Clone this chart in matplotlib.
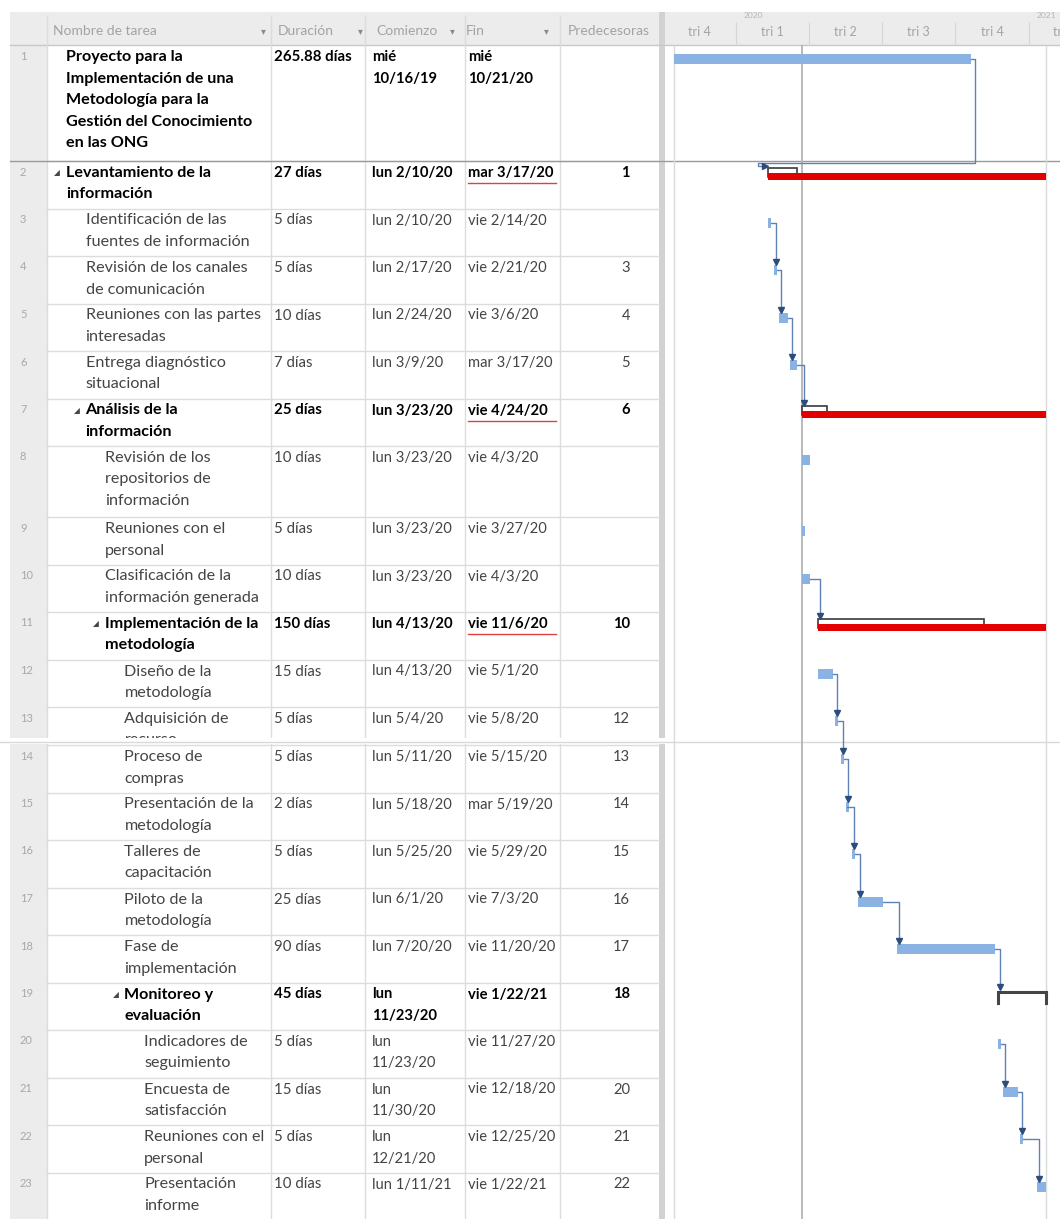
import matplotlib
matplotlib.use("Agg")
import matplotlib.pyplot as plt
import matplotlib.dates as mdates
from matplotlib.patches import Rectangle
import pandas as pd

plt.rcParams['font.family'] = ['Lato', 'DejaVu Sans']

# --- Task table (MS Project export) ---
task_names = [
    ["Proyecto para la", "Implementación de una", "Metodología para la",
     "Gestión del Conocimiento", "en las ONG"],
    ["Levantamiento de la", "información"],
    ["Identificación de las", "fuentes de información"],
    ["Revisión de los canales", "de comunicación"],
    ["Reuniones con las partes", "interesadas"],
    ["Entrega diagnóstico", "situacional"],
    ["Análisis de la", "información"],
    ["Revisión de los", "repositorios de", "información"],
    ["Reuniones con el", "personal"],
    ["Clasificación de la", "información generada"],
    ["Implementación de la", "metodología"],
    ["Diseño de la", "metodología"],
    ["Adquisición de", "recurso"],
    ["Proceso de", "compras"],
    ["Presentación de la", "metodología"],
    ["Talleres de", "capacitación"],
    ["Piloto de la", "metodología"],
    ["Fase de", "implementación"],
    ["Monitoreo y", "evaluación"],
    ["Indicadores de", "seguimiento"],
    ["Encuesta de", "satisfacción"],
    ["Reuniones con el", "personal"],
    ["Presentación", "informe"],
]
durations = ["265.88 días", "27 días", "5 días", "5 días", "10 días", "7 días",
             "25 días", "10 días", "5 días", "10 días", "150 días", "15 días",
             "5 días", "5 días", "2 días", "5 días", "25 días", "90 días",
             "45 días", "5 días", "15 días", "5 días", "10 días"]
starts = ["mié\n10/16/19", "lun 2/10/20", "lun 2/10/20", "lun 2/17/20",
          "lun 2/24/20", "lun 3/9/20", "lun 3/23/20", "lun 3/23/20",
          "lun 3/23/20", "lun 3/23/20", "lun 4/13/20", "lun 4/13/20",
          "lun 5/4/20", "lun 5/11/20", "lun 5/18/20", "lun 5/25/20",
          "lun 6/1/20", "lun 7/20/20", "lun\n11/23/20", "lun\n11/23/20",
          "lun\n11/30/20", "lun\n12/21/20", "lun 1/11/21"]
finishes = ["mié\n10/21/20", "mar 3/17/20", "vie 2/14/20", "vie 2/21/20",
            "vie 3/6/20", "mar 3/17/20", "vie 4/24/20", "vie 4/3/20",
            "vie 3/27/20", "vie 4/3/20", "vie 11/6/20", "vie 5/1/20",
            "vie 5/8/20", "vie 5/15/20", "mar 5/19/20", "vie 5/29/20",
            "vie 7/3/20", "vie 11/20/20", "vie 1/22/21", "vie 11/27/20",
            "vie 12/18/20", "vie 12/25/20", "vie 1/22/21"]
predecessors = [None, 1, None, 3, 4, 5, 6, None, None, None, 10, None, 12,
                13, 14, 15, 16, 17, 18, None, 20, 21, 22]
outline_levels = [0, 0, 1, 1, 1, 1, 1, 2, 2, 2, 2, 3, 3, 3, 3, 3, 3, 3, 3,
                  4, 4, 4, 4]
bold_ids = [1, 2, 7, 11, 19]
summary_ids = [2, 7, 11, 19]
late_ids = [2, 7, 11]          # summaries with the red bar to project end
status_date = "3/23/20"

quarter_labels = ["tri 4", "tri 1", "tri 2", "tri 3", "tri 4", "tri 1"]
quarter_starts = ["2019-10-01", "2020-01-01", "2020-04-01", "2020-07-01",
                  "2020-10-01", "2021-01-01", "2021-04-01"]
year_labels = ["2020", "2021"]


def to_date(s):
    return pd.to_datetime(s.split()[-1], format="%m/%d/%y")


start_num = [mdates.date2num(to_date(s)) for s in starts]
finish_num = [mdates.date2num(to_date(s)) for s in finishes]
n = len(task_names)

# --- Layout (pixels) ---
W, H = 1060, 1219
head_top, head_bot = 12, 45
row_h = []
for i in range(n):
    if i == 0:
        row_h.append(116)
    elif len(task_names[i]) == 3:
        row_h.append(71)
    elif i == 12:
        row_h.append(38)
    else:
        row_h.append(47.5)
row_top = [head_bot]
for h in row_h[:-1]:
    row_top.append(row_top[-1] + h)
line_gap = 21.5
cut_y = 738   # screen break inside row 13

grid_c = "#dcdcdc"
head_c = "#ececec"
txt_c = "#444444"
head_txt = "#a3a3a3"
blue = "#8ab3e3"
link_c = "#5f82b6"
arrow_c = "#2d4c7c"
red = "#e30000"

fig = plt.figure(figsize=(W / 100, H / 100), dpi=100)
ax = fig.add_axes([0, 0, 1, 1])
ax.set_xlim(0, W)
ax.set_ylim(H, 0)
ax.axis("off")

# header bands and number column
ax.add_patch(Rectangle((10, head_top), 649, head_bot - head_top, fc=head_c, ec="none"))
ax.add_patch(Rectangle((665, head_top), W - 665, head_bot - head_top, fc=head_c, ec="none"))
ax.add_patch(Rectangle((10, head_bot), 37, H - head_bot, fc=head_c, ec="none"))
ax.add_patch(Rectangle((659, head_top), 6, H - head_top, fc="#d2d2d2", ec="none"))
ax.plot([10, W], [head_bot, head_bot], color="#c8c8c8", lw=1)

# column lines
for x in [47, 271, 365, 465, 560]:
    ax.plot([x, x], [head_top + 4, H], color=grid_c, lw=1)

# header text
header_labels = ["Nombre de tarea", "Duración", "Comienzo", "Fin", "Predecesoras"]
header_x = [53, 278, 376, 466, 568]
for lab, x in zip(header_labels, header_x):
    ax.text(x, 31, lab, color=head_txt, fontsize=10, va="center")
for x in [263, 360, 452, 546]:
    ax.text(x, 32, "▾", color="#8a8a8a", fontsize=7, va="center", ha="center")

# table rows
clip = Rectangle((0, 0), W, cut_y, transform=ax.transData)
for i in range(n):
    tid = i + 1
    top = row_top[i]
    bottom = top + row_h[i]
    weight = "bold" if tid in bold_ids else "normal"
    color = "black" if tid in bold_ids else txt_c
    y0 = top + 12
    ax.plot([47, 659], [bottom, bottom], color=grid_c, lw=1)
    ax.text(20, y0 - 1, str(tid), color="#a8a8a8", fontsize=8, va="center")
    name_x = 66 + outline_levels[i] * 19.5
    if tid in summary_ids:
        ax.text(name_x - 9, y0, "◢", fontsize=5.5, color="#444444",
                va="center", ha="center", family="DejaVu Sans")
    cells = [("\n".join(task_names[i]), name_x, "left", 11.6),
             (durations[i], 274, "left", 10.8),
             (starts[i], 372, "left", 10.6),
             (finishes[i], 468, "left", 10.6),
             ("" if predecessors[i] is None else str(predecessors[i]), 630, "right", 10.6)]
    for text, x, ha, fs in cells:
        for k, line in enumerate(text.split("\n")):
            t = ax.text(x, y0 + k * line_gap, line, fontsize=fs, color=color,
                        fontweight=weight, va="center", ha=ha)
            if i == 12:
                t.set_clip_path(clip)
    if tid in late_ids:
        ax.plot([468, 556], [y0 + 10, y0 + 10], color="#e04040", lw=1)

# darker separator under the project row and the screen break
ax.plot([10, W], [row_top[1], row_top[1]], color="#9a9a9a", lw=1)
ax.add_patch(Rectangle((0, cut_y), W, row_top[13] - cut_y - 1, fc="white", ec="none", zorder=5))
ax.plot([0, W], [row_top[13] - 3, row_top[13] - 3], color="#d8d8d8", lw=1, zorder=6)

# --- Gantt area ---
px_day = 0.8
jan1 = mdates.date2num(pd.Timestamp("2020-01-01"))
gx = fig.add_axes([665 / W, 0, (W - 665) / W, 1])
gx.set_xlim(jan1 - (736 - 665) / px_day, jan1 + (W - 736) / px_day)
gx.set_ylim(H, 0)
gx.axis("off")
gx.patch.set_alpha(0)
dpx = 1 / px_day   # one pixel in days

# timescale
q_num = [mdates.date2num(pd.Timestamp(d)) for d in quarter_starts]
for k, lab in enumerate(quarter_labels):
    mid = (q_num[k] + q_num[k + 1]) / 2
    gx.text(mid, 32, lab, color=head_txt, fontsize=9, ha="center", va="center", clip_on=True)
    gx.vlines(q_num[k], 22, head_bot, color="#d6d6d6", lw=0.8)
for lab in year_labels:
    yr = mdates.date2num(pd.Timestamp(lab + "-01-01"))
    gx.text(yr + 8 * dpx, 15, lab, color="#b5b5b5", fontsize=6, va="center", clip_on=True)

# project start / status / finish lines
proj_end = max(finish_num)
gx.vlines(start_num[0], head_bot, H, color="#dadada", lw=1)
gx.vlines(proj_end, head_bot, H, color="#dadada", lw=1)
gx.vlines(mdates.date2num(to_date(status_date)), head_bot, H, color="#b4b4b4", lw=1.3)


def bar_mid(i):
    return row_top[i] + 14


# bars
for i in range(n):
    tid = i + 1
    top = row_top[i]
    s, f = start_num[i], finish_num[i]
    if tid == 19:
        gx.plot([s, s, f, f], [top + 20, top + 9, top + 9, top + 20],
                color="#454545", lw=2.2, solid_joinstyle="miter")
    elif tid in summary_ids:
        gx.bar(s, 9, width=f - s, bottom=top + 7, align="edge",
               color="white", edgecolor="#3a3a3a", lw=1.2, zorder=3)
        gx.bar(s, 7, width=proj_end - s, bottom=top + 12, align="edge",
               color=red, edgecolor="none", zorder=4)
    else:
        gx.bar(s, 10, width=max(f - s, 3 * dpx), bottom=top + 9, align="edge",
               color=blue, edgecolor="none", zorder=3)

# links (finish-to-start)
for i in range(n):
    p = predecessors[i]
    if p is None:
        continue
    j = p - 1
    xf, xs = finish_num[j], start_num[i]
    yp = bar_mid(j)
    y_in = row_top[i] + (7 if (i + 1) in summary_ids else 9)
    if xs >= xf:
        xv = max(xf + 4 * dpx, xs + 2 * dpx)
        gx.plot([xf, xv, xv], [yp, yp, y_in - 3], color=link_c, lw=1, zorder=5)
        gx.plot(xv, y_in - 3, marker="v", ms=4.5, color=arrow_c, zorder=6)
    else:
        xr = xf + 4 * dpx
        xl = xs - 10 * dpx
        yb = row_top[i] + 2
        ym = row_top[i] + 5
        gx.plot([xf, xr, xr, xl, xl, xs - 3 * dpx], [yp, yp, yb, yb, ym, ym],
                color=link_c, lw=1, zorder=5)
        gx.plot(xs - 3 * dpx, ym, marker=">", ms=4.5, color=arrow_c, zorder=6)

fig.savefig("out.png", dpi=100)
